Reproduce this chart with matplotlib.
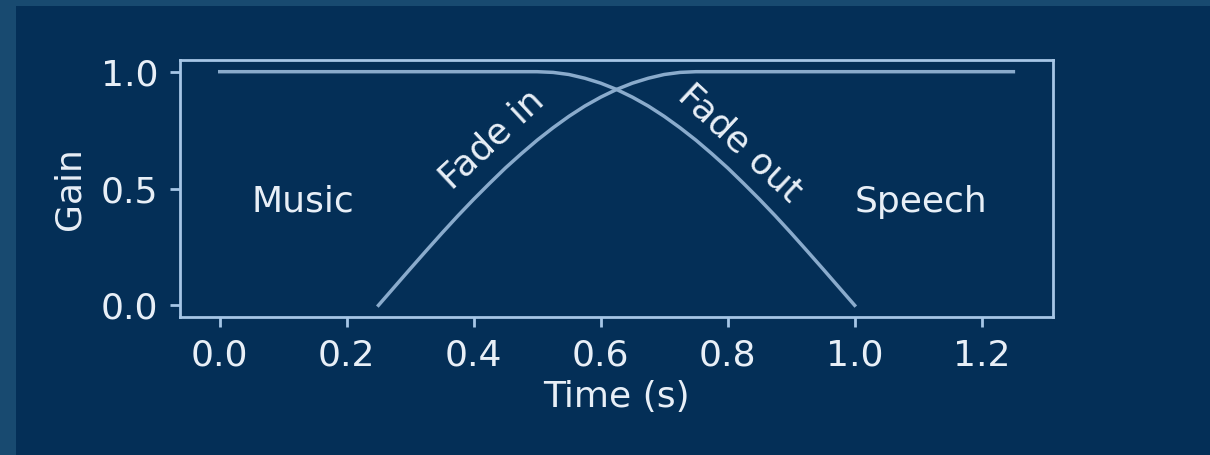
import matplotlib
matplotlib.use("Agg")
import matplotlib.pyplot as plt
from matplotlib.patches import Rectangle

BG_OUTER = "#184a70"
BG_INNER = "#042f57"
LINE_COLOR = "#8aabcc"
SPINE_COLOR = "#a6c6e6"
TEXT_COLOR = "#e8eff7"

# music: held at full gain, then a quarter-cosine fade out from 0.5 s to 1.0 s
music_time = [0.0, 0.5, 0.525, 0.55, 0.575, 0.6, 0.625, 0.65, 0.675, 0.7, 0.725,
              0.75, 0.775, 0.8, 0.825, 0.85, 0.875, 0.9, 0.925, 0.95, 0.975, 1.0]
music_gain = [1.0, 1.0, 0.997, 0.988, 0.972, 0.951, 0.924, 0.891, 0.853, 0.809, 0.760,
              0.707, 0.649, 0.588, 0.522, 0.454, 0.383, 0.309, 0.233, 0.156, 0.078, 0.0]

# speech: quarter-sine fade in from 0.25 s to 0.75 s, then held
speech_time = [0.25, 0.275, 0.3, 0.325, 0.35, 0.375, 0.4, 0.425, 0.45, 0.475, 0.5,
               0.525, 0.55, 0.575, 0.6, 0.625, 0.65, 0.675, 0.7, 0.725, 0.75, 1.25]
speech_gain = [0.0, 0.078, 0.156, 0.233, 0.309, 0.383, 0.454, 0.522, 0.588, 0.649, 0.707,
               0.760, 0.809, 0.853, 0.891, 0.924, 0.951, 0.972, 0.988, 0.997, 1.0, 1.0]

x_ticks = [0.0, 0.2, 0.4, 0.6, 0.8, 1.0, 1.2]
y_ticks = [0.0, 0.5, 1.0]

plt.rcParams["font.family"] = "DejaVu Sans"
plt.rcParams["font.size"] = 10.4

fig = plt.figure(figsize=(4.84, 1.82), dpi=250, facecolor=BG_OUTER)
fig.patches.append(Rectangle((16 / 1210, 0), 1, 1 - 6 / 455,
                             transform=fig.transFigure, facecolor=BG_INNER,
                             edgecolor="none", zorder=-10))

ax = fig.add_axes([0.1488, 0.3033, 0.7215, 0.5648])
ax.set_facecolor(BG_INNER)

ax.plot(music_time, music_gain, color=LINE_COLOR, lw=1.0)
ax.plot(speech_time, speech_gain, color=LINE_COLOR, lw=1.0)

ax.text(0.05, 0.4, "Music", color=TEXT_COLOR)
ax.text(1.0, 0.4, "Speech", color=TEXT_COLOR)
ax.text(0.428, 0.712, "Fade in", color=TEXT_COLOR, rotation=43,
        ha="center", va="center", rotation_mode="anchor")
ax.text(0.82, 0.695, "Fade out", color=TEXT_COLOR, rotation=-43,
        ha="center", va="center", rotation_mode="anchor")

ax.set_xticks(x_ticks)
ax.set_yticks(y_ticks)
ax.set_xlabel("Time (s)", color=TEXT_COLOR, labelpad=2)
ax.set_ylabel("Gain", color=TEXT_COLOR)

for spine in ax.spines.values():
    spine.set_color(SPINE_COLOR)
    spine.set_linewidth(0.8)
ax.tick_params(colors=SPINE_COLOR, labelcolor=TEXT_COLOR, length=2.8, width=0.8)

fig.savefig("out.png", dpi=250, facecolor=BG_OUTER)
